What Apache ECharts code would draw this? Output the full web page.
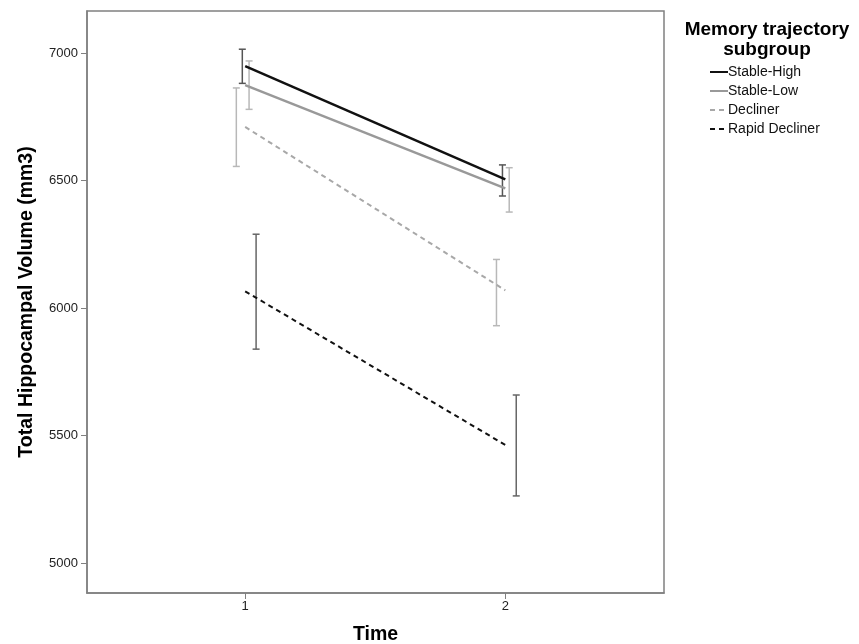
<!DOCTYPE html>
<html>
<head>
<meta charset="utf-8">
<script src="https://cdn.jsdelivr.net/npm/echarts@6/dist/echarts.min.js"></script>
<style>
html,body{margin:0;padding:0;background:#fff;}
#c{width:859px;height:644px;}
</style>
</head>
<body>
<div id="c"></div>
<script>
// ---- data ----
var times = [1, 2];
var groups = ['Stable-High', 'Stable-Low', 'Decliner', 'Rapid Decliner'];
var meanStableHigh = [6950, 6505];
var meanStableLow = [6875, 6470];
var meanDecliner = [6711, 6070];
var meanRapid = [6066, 5463];
var lowStableHigh = [6882, 6440];
var highStableHigh = [7016, 6562];
var lowStableLow = [6780, 6377];
var highStableLow = [6970, 6551];
var lowDecliner = [6556, 5931];
var highDecliner = [6864, 6191];
var lowRapid = [5839, 5263];
var highRapid = [6290, 5659];
var yTicks = [5000, 5500, 6000, 6500, 7000];
var xTicks = [1, 2];

// ---- styles ----
var FONT = '"Liberation Sans", Arial, sans-serif';
var dodge = [-0.011, 0.015, -0.034, 0.042];
var lineColors = ['#111111', '#999999', '#a8a8a8', '#111111'];
var lineTypes = ['solid', 'solid', [5, 4], [5, 4]];
var lineWidths = [2.5, 2.5, 2, 2];
var barColors = ['#555555', '#b8b8b8', '#b8b8b8', '#666666'];

var means = [meanStableHigh, meanStableLow, meanDecliner, meanRapid];
var lows = [lowStableHigh, lowStableLow, lowDecliner, lowRapid];
var highs = [highStableHigh, highStableLow, highDecliner, highRapid];

var series = [];
groups.forEach(function (g, i) {
  series.push({
    name: g,
    type: 'line',
    data: times.map(function (t, k) { return [t, means[i][k]]; }),
    symbol: 'none',
    lineStyle: { color: lineColors[i], width: lineWidths[i], type: lineTypes[i] },
    itemStyle: { color: lineColors[i] },
    z: 3
  });
});
groups.forEach(function (g, i) {
  series.push({
    name: g + ' err',
    type: 'custom',
    data: times.map(function (t, k) { return [t, lows[i][k], highs[i][k]]; }),
    renderItem: function (params, api) {
      var x = api.value(0) + dodge[i];
      var lo = api.coord([x, api.value(1)]);
      var hi = api.coord([x, api.value(2)]);
      var hw = 3.5;
      var st = { stroke: barColors[i], lineWidth: 1.5, fill: null };
      return {
        type: 'group',
        children: [
          { type: 'line', shape: { x1: lo[0], y1: lo[1], x2: hi[0], y2: hi[1] }, style: st },
          { type: 'line', shape: { x1: lo[0] - hw, y1: lo[1], x2: lo[0] + hw, y2: lo[1] }, style: st },
          { type: 'line', shape: { x1: hi[0] - hw, y1: hi[1], x2: hi[0] + hw, y2: hi[1] }, style: st }
        ]
      };
    },
    z: 2
  });
});

var chart = echarts.init(document.getElementById('c'), null, { renderer: 'canvas' });
chart.setOption({
  animation: false,
  backgroundColor: '#ffffff',
  title: {
    text: 'Memory trajectory\nsubgroup',
    left: 762, top: 15, textAlign: 'center',
    textStyle: { fontFamily: FONT, fontSize: 19, fontWeight: 'bold', color: '#000', lineHeight: 20 }
  },
  legend: {
    data: groups,
    orient: 'vertical',
    left: 704, top: 60,
    itemWidth: 18, itemHeight: 3, itemGap: 5,
    itemStyle: { opacity: 0 },
    textStyle: { fontFamily: FONT, fontSize: 14, color: '#111', padding: [0, 0, 0, -5] }
  },
  grid: {
    left: 87, right: 195, top: 11, bottom: 51,
    outerBoundsMode: 'none',
    show: true, borderColor: '#808080', borderWidth: 1.5
  },
  xAxis: {
    type: 'value', min: 0.392, max: 2.61,
    name: 'Time', nameLocation: 'middle', nameGap: 32,
    nameTextStyle: { fontFamily: FONT, fontSize: 19.5, fontWeight: 'bold', color: '#000' },
    axisLine: { show: true, lineStyle: { color: '#808080', width: 1.5 } },
    axisTick: { show: true, length: 6, customValues: xTicks, lineStyle: { color: '#808080' } },
    axisLabel: { customValues: xTicks, margin: 7, fontFamily: FONT, fontSize: 13, color: '#222' },
    splitLine: { show: false }
  },
  yAxis: {
    type: 'value', min: 4882, max: 7166,
    name: 'Total Hippocampal Volume (mm3)', nameLocation: 'middle', nameGap: 50,
    nameTextStyle: { fontFamily: FONT, fontSize: 19.5, fontWeight: 'bold', color: '#000' },
    axisLine: { show: true, lineStyle: { color: '#808080', width: 1.5 } },
    axisTick: { show: true, length: 6, customValues: yTicks, lineStyle: { color: '#808080' } },
    axisLabel: {
      customValues: yTicks, margin: 9, fontFamily: FONT, fontSize: 13, color: '#222',
      formatter: function (v) { return String(v); }
    },
    splitLine: { show: false }
  },
  series: series
});
</script>
</body>
</html>
